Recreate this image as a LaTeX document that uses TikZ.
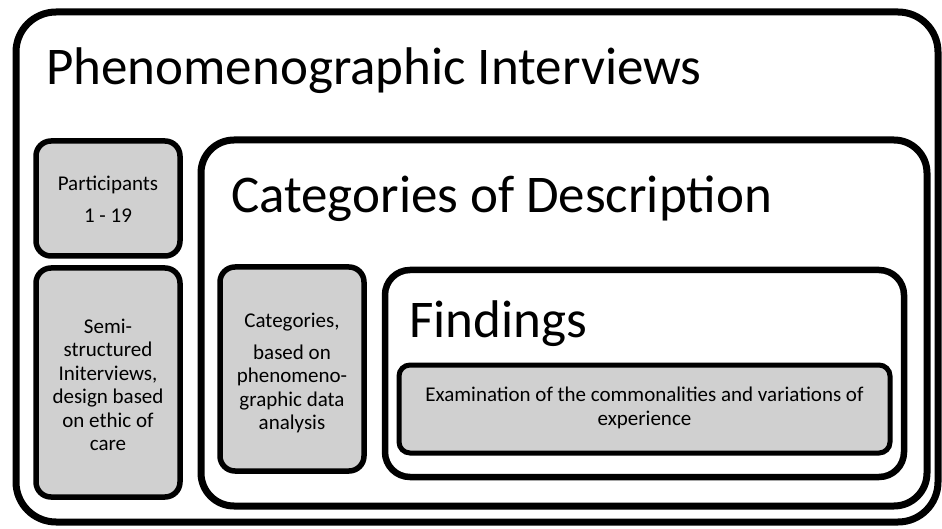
\documentclass[tikz,border=0pt]{standalone}
\usepackage{fontspec}
\setmainfont{Carlito}
\usepackage{tikz}
\usetikzlibrary{shadows}
\usepackage{xcolor}
\definecolor{boxgray}{HTML}{D0D0D0}

\begin{document}
\begin{tikzpicture}[x=1pt,y=-1pt,
    frame/.style={draw=black,fill=white,inner sep=0pt,
        drop shadow={shadow xshift=2pt,shadow yshift=-2pt,opacity=0.25}},
    graybox/.style={frame,fill=boxgray,line width=5.5pt,rounded corners=15pt},
    title/.style={anchor=base west,inner sep=0pt,font=\fontsize{53}{60}\selectfont},
    boxtext/.style={align=center,inner sep=0pt,font=\fontsize{21}{23.5}\selectfont}]
    \useasboundingbox (0,0) rectangle (942,529);
    % outer frame
    \node[frame,line width=7pt,rounded corners=40pt,minimum width=922pt,minimum height=510pt] (interviews) at (477,267) {};
    \node[title] (interviewstitle) at (46,85) {Phenomenographic Interviews};
    \node[graybox,minimum width=144pt,minimum height=115pt] (participants) at (108,198.5) {};
    \node[boxtext] (participantstext) at (108,199) {Participants\\[8pt]1 - 19};
    \node[graybox,minimum width=144pt,minimum height=229pt] (semi) at (108,382.5) {};
    \node[boxtext] (semitext) at (108,385) {Semi-\\structured\\Initerviews,\\design based\\on ethic of\\care};
    % categories of description
    \node[frame,line width=7pt,rounded corners=33pt,minimum width=726pt,minimum height=366pt] (description) at (564,323) {};
    \node[title] (descriptiontitle) at (231,213) {Categories of Description};
    \node[graybox,minimum width=144pt,minimum height=204pt] (categories) at (292,369) {};
    \node[boxtext] (categoriestext) at (292,373) {Categories,\\[8pt]based on\\phenomeno-\\graphic data\\analysis};
    % findings
    \node[frame,line width=6.5pt,rounded corners=25pt,minimum width=519pt,minimum height=207pt] (findings) at (644.5,373.5) {};
    \node[title] (findingstitle) at (409,337) {Findings};
    \node[graybox,line width=5pt,rounded corners=11pt,minimum width=491pt,minimum height=88pt] (examination) at (644.5,409) {};
    \node[boxtext] (examinationtext) at (644.5,408) {Examination of the commonalities and variations of\\experience};
\end{tikzpicture}
\end{document}
